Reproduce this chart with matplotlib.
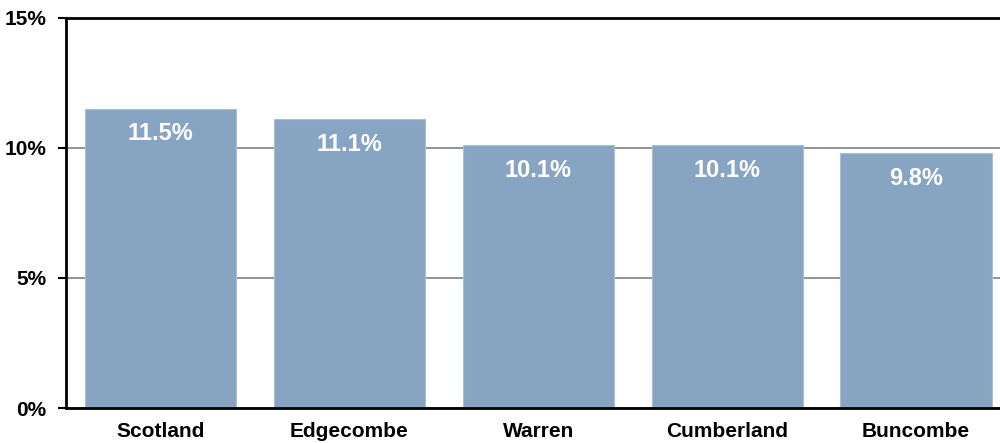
import matplotlib.pyplot as plt
from matplotlib.ticker import FuncFormatter

plt.rcParams['font.family'] = ['Liberation Sans', 'DejaVu Sans']
plt.rcParams['font.weight'] = 'bold'

counties = ["Scotland", "Edgecombe", "Warren", "Cumberland", "Buncombe"]
rates = [11.5, 11.1, 10.1, 10.1, 9.8]
yticks = [0, 5, 10, 15]

fig = plt.figure(figsize=(10, 4.43), dpi=100)
ax = fig.add_axes([0.066, 0.079, 0.934, 0.881])

bars = ax.bar(range(len(counties)), rates, width=0.8, color="#87a5c3",
              edgecolor="#a9bfd5", linewidth=0.8, zorder=2)
for b, v in zip(bars, rates):
    ax.annotate(f"{v:.1f}%", (b.get_x() + b.get_width() / 2, v),
                xytext=(0, -18), textcoords="offset points",
                ha="center", va="center", color="white",
                fontsize=17, fontweight="bold")

ax.set_xlim(-0.5, 4.445)
ax.set_ylim(0, 15)
ax.set_yticks(yticks)
ax.yaxis.set_major_formatter(FuncFormatter(lambda v, p: f"{v:.0f}%"))
ax.set_xticks(range(len(counties)))
ax.set_xticklabels(counties)
ax.tick_params(axis="y", length=6, width=1.5, pad=8, labelsize=15)
ax.tick_params(axis="x", length=0, pad=10, labelsize=15)
ax.grid(axis="y", color="#808080", linewidth=1.2, zorder=1)

ax.spines["right"].set_visible(False)
for s in ["left", "bottom", "top"]:
    ax.spines[s].set_linewidth(2)
    ax.spines[s].set_color("black")
ax.spines["left"].set_zorder(3)

fig.savefig("out.png", dpi=100)
